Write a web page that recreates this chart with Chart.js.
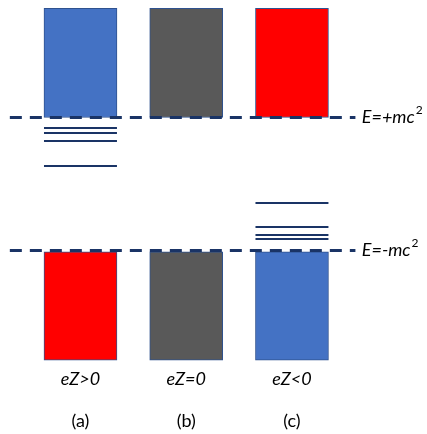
<!DOCTYPE html>
<html>
<head>
<meta charset="utf-8">
<script src="https://cdn.jsdelivr.net/npm/chart.js@4"></script>
<style>
  body { margin: 0; background: #fff; }
  canvas { display: block; }
</style>
</head>
<body>
<canvas id="diagram" width="427" height="434"></canvas>
<script>
// columns (a) (b) (c) sit at x = 0, 1, 2; energy in units of mc^2
const panels = ['(a)', '(b)', '(c)'];
const charges = ['eZ>0', 'eZ=0', 'eZ<0'];
const upperContinuum = [[1.0, 2.64], [1.0, 2.64], [1.0, 2.64]];
const lowerContinuum = [[-1.02, -2.65], [-1.02, -2.65], [-1.02, -2.65]];
const upperColors = ['#4472C4', '#595959', '#FF0000'];
const lowerColors = ['#FF0000', '#595959', '#4472C4'];
const boundLevels = [
    [0.842, 0.767, 0.647, 0.271],
    [],
    [-0.286, -0.647, -0.767, -0.827]
];
const thresholds = [1, -1];
const thresholdLabels = ['E=+mc', 'E=-mc'];

const halfWidth = 0.345;
const navy = '#1A3466';

// short horizontal segments for each bound level, broken by null points
const levelData = [];
boundLevels.forEach((levels, col) => {
    levels.forEach(e => {
        levelData.push({ x: col - halfWidth, y: e });
        levelData.push({ x: col + halfWidth, y: e });
        levelData.push({ x: col, y: null });
    });
});

const thresholdSets = thresholds.map(e => ({
    type: 'line',
    data: [{ x: -0.668, y: e }, { x: 2.6, y: e }],
    borderColor: navy,
    borderWidth: 3,
    borderDash: [12, 8],
    pointRadius: 0,
    order: 0
}));

const labelPlugin = {
    id: 'labels',
    afterDatasetsDraw(chart) {
        const ctx = chart.ctx;
        const xs = chart.scales.x, ys = chart.scales.y;
        ctx.save();
        ctx.fillStyle = '#000';
        ctx.textBaseline = 'middle';

        ctx.textAlign = 'center';
        ctx.font = 'italic 18px Lato';
        charges.forEach((t, i) => ctx.fillText(t, xs.getPixelForValue(i), ys.getPixelForValue(-2.93)));
        ctx.font = '18px Lato';
        panels.forEach((t, i) => ctx.fillText(t, xs.getPixelForValue(i), ys.getPixelForValue(-3.56)));

        ctx.textAlign = 'left';
        thresholdLabels.forEach((t, i) => {
            const x = xs.getPixelForValue(2.66);
            const y = ys.getPixelForValue(thresholds[i]);
            ctx.font = 'italic 18px Lato';
            ctx.fillText(t, x, y);
            const w = ctx.measureText(t).width;
            ctx.font = '12px Lato';
            ctx.fillText('2', x + w + 1, y - 7);
        });
        ctx.restore();
    }
};

new Chart(document.getElementById('diagram'), {
    type: 'bar',
    data: {
        datasets: [
            ...thresholdSets,
            {
                type: 'line',
                data: levelData,
                borderColor: navy,
                borderWidth: 2,
                pointRadius: 0,
                spanGaps: false,
                order: 0
            },
            {
                data: upperContinuum.map((v, i) => ({ x: i, y: v })),
                backgroundColor: upperColors,
                borderColor: '#2F528F',
                borderWidth: 1,
                borderSkipped: false,
                barThickness: 73,
                grouped: false,
                order: 1
            },
            {
                data: lowerContinuum.map((v, i) => ({ x: i, y: v })),
                backgroundColor: lowerColors,
                borderColor: '#2F528F',
                borderWidth: 1,
                borderSkipped: false,
                barThickness: 73,
                grouped: false,
                order: 1
            }
        ]
    },
    options: {
        responsive: false,
        animation: false,
        layout: { padding: 0 },
        plugins: {
            legend: { display: false },
            tooltip: { enabled: false }
        },
        scales: {
            x: { type: 'linear', min: -0.761, max: 3.277, offset: false, display: false },
            y: { type: 'linear', min: -3.759, max: 2.767, display: false }
        }
    },
    plugins: [labelPlugin]
});
</script>
</body>
</html>
